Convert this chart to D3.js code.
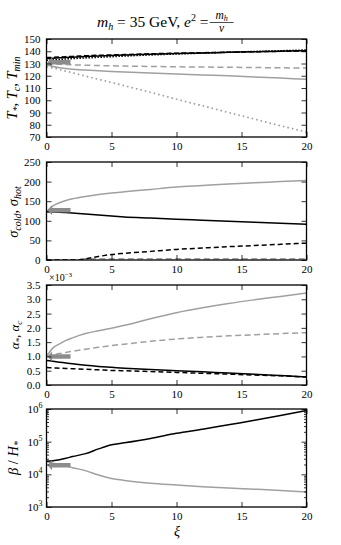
<!DOCTYPE html>
<html><head><meta charset="utf-8">
<script src="https://cdn.jsdelivr.net/npm/d3@7/dist/d3.min.js"></script>
<style>body{margin:0;background:#fff}svg{display:block}text{font-family:"Liberation Serif","DejaVu Serif",serif;}</style>
</head><body><svg id="c" width="341" height="545"></svg>
<script>
const xi = [0, 0.5, 1, 1.5, 2, 3, 4, 5, 6, 8, 10, 12, 14, 16, 18, 20];
const xTicks = [0, 5, 10, 15, 20];

// Panel 1: temperatures
const tStarBlack = [134, 134.3, 134.6, 134.9, 135.2, 135.7, 136.1, 136.5, 136.9, 137.5, 138.1, 138.6, 139.1, 139.6, 140.0, 140.5];
const tcBlack = [134.8, 135.0, 135.3, 135.6, 135.8, 136.3, 136.7, 137.0, 137.3, 137.9, 138.4, 138.8, 139.2, 139.6, 139.9, 140.2];
const tMinBlack = [132.6, 132.9, 133.3, 133.7, 134.0, 134.6, 135.1, 135.6, 136.1, 137.0, 137.8, 138.5, 139.2, 139.8, 140.4, 141.0];
const tcGray = [130, 129.7, 129.4, 129.1, 128.9, 128.6, 128.3, 128.1, 127.9, 127.6, 127.3, 127.1, 126.9, 126.7, 126.5, 126.3];
const tStarGray = [129, 127.6, 126.6, 125.9, 125.3, 124.6, 124.0, 123.5, 123.1, 122.3, 121.5, 120.7, 119.9, 119.0, 118.1, 117.2];
const tMinGray = [127.5, 126.3, 125.0, 123.7, 122.4, 119.7, 117.1, 114.5, 111.8, 106.5, 100.8, 95.5, 90.0, 84.6, 79.2, 74.0];
const yTicks1 = [70, 80, 90, 100, 110, 120, 130, 140, 150];

// Panel 2: sigma
const sigmaHotGray = [123, 138, 146, 152, 156, 162, 167, 171, 174, 180, 186, 190, 194, 197, 200, 203];
const sigmaColdBlack = [123, 122.5, 122, 121, 120, 117.5, 114.5, 112, 110, 107, 104, 101.5, 99, 96.5, 94, 91.5];
const xiDashed2 = [0, 2.6, 3, 4, 5, 6, 8, 10, 12, 14, 16, 18, 20];
const sigmaDashBlack = [0, 0, 3, 9, 14, 17, 22, 27, 30.5, 34, 37, 40, 43];
const xiDashGray2 = [2.6, 5, 10, 15, 20];
const sigmaDashGray = [3, 3, 3, 3, 3];
const yTicks2 = [0, 50, 100, 150, 200, 250];

// Panel 3: alpha (x1e-3)
const alphaGray = [1.0, 1.3, 1.44, 1.56, 1.65, 1.8, 1.9, 1.99, 2.09, 2.32, 2.53, 2.7, 2.85, 2.98, 3.1, 3.22];
const alphaGrayDash = [1.0, 1.05, 1.1, 1.14, 1.18, 1.25, 1.32, 1.38, 1.43, 1.53, 1.61, 1.67, 1.72, 1.76, 1.8, 1.83];
const alphaBlack = [0.86, 0.83, 0.8, 0.77, 0.74, 0.69, 0.65, 0.62, 0.59, 0.54, 0.5, 0.46, 0.42, 0.38, 0.33, 0.28];
const alphaBlackDash = [0.61, 0.6, 0.59, 0.58, 0.57, 0.55, 0.53, 0.51, 0.5, 0.47, 0.44, 0.41, 0.38, 0.35, 0.32, 0.28];
const yTicks3 = [0, 0.5, 1.0, 1.5, 2.0, 2.5, 3.0, 3.5];

// Panel 4: beta/H
const betaBlack = [2.5e4, 2.6e4, 2.8e4, 3.1e4, 3.5e4, 4.3e4, 6.0e4, 8.0e4, 9.2e4, 1.25e5, 1.8e5, 2.4e5, 3.3e5, 4.5e5, 6.3e5, 9.0e5];
const betaGray = [2.4e4, 2.2e4, 2.0e4, 1.8e4, 1.6e4, 1.3e4, 9.5e3, 7.5e3, 6.5e3, 5.3e3, 4.7e3, 4.2e3, 3.8e3, 3.5e3, 3.2e3, 2.9e3];
const yTicks4 = [1e3, 1e4, 1e5, 1e6];

// arrow markers (value at xi = 0)
const arrowVals = [131, 127, 1.0, 1.9e4];

const GRAY = "#a0a0a0", AGRAY = "#8c8c8c";
const svg = d3.select("#c");
const L = 46.5, R = 306.5;
const x = d3.scaleLinear().domain([0, 20]).range([L, R]);

const panels = [
  {top: 39, bot: 137, dom: [70, 150], ticks: yTicks1, fmt: d => d},
  {top: 162, bot: 260, dom: [0, 250], ticks: yTicks2, fmt: d => d},
  {top: 285, bot: 385, dom: [0, 3.5], ticks: yTicks3, fmt: d => d.toFixed(1)},
  {top: 409, bot: 507, dom: [1e3, 1e6], ticks: yTicks4, log: true},
];

function setup(p, i) {
  const y = p.log ? d3.scaleLog().domain(p.dom).range([p.bot, p.top]) : d3.scaleLinear().domain(p.dom).range([p.bot, p.top]);
  p.y = y;
  const clipId = "clip" + i;
  svg.append("clipPath").attr("id", clipId).append("rect").attr("x", L).attr("y", p.top).attr("width", R - L).attr("height", p.bot - p.top);
  p.plot = svg.append("g").attr("clip-path", `url(#${clipId})`);
  return p;
}
panels.forEach(setup);

function frame(p) {
  const g = svg.append("g");
  const y = p.y;
  g.append("g").attr("transform", `translate(0,${p.bot})`)
    .call(d3.axisBottom(x).tickValues(xTicks).tickSize(-5).tickPadding(5).tickFormat(d => d))
    .call(a => a.select(".domain").remove());
  g.append("g").attr("transform", `translate(0,${p.top})`)
    .call(d3.axisTop(x).tickValues(xTicks).tickSize(-5).tickFormat(""))
    .call(a => a.select(".domain").remove());
  let yl = d3.axisLeft(y).tickValues(p.ticks).tickSize(-5).tickPadding(6);
  let yr = d3.axisRight(y).tickValues(p.ticks).tickSize(-5).tickFormat("");
  if (p.log) yl.tickFormat(() => ""); else yl.tickFormat(p.fmt);
  g.append("g").attr("transform", `translate(${L},0)`).call(yl).call(a => a.select(".domain").remove());
  g.append("g").attr("transform", `translate(${R},0)`).call(yr).call(a => a.select(".domain").remove());
  if (p.log) {
    const minors = [];
    [1e3, 1e4, 1e5].forEach(b => { for (let k = 2; k <= 9; k++) minors.push(b * k); });
    g.append("g").attr("transform", `translate(${L},0)`).call(d3.axisLeft(y).tickValues(minors).tickSize(-2.5).tickFormat("")).call(a => a.select(".domain").remove());
    g.append("g").attr("transform", `translate(${R},0)`).call(d3.axisRight(y).tickValues(minors).tickSize(-2.5).tickFormat("")).call(a => a.select(".domain").remove());
    p.ticks.forEach(t => {
      const e = Math.round(Math.log10(t));
      const tx = g.append("text").attr("x", L - 4).attr("y", y(t) + 4).attr("text-anchor", "end").attr("font-size", 11);
      tx.append("tspan").text("10");
      tx.append("tspan").attr("dy", -5).attr("font-size", 8).text(e);
    });
  }
  g.selectAll(".tick text").attr("font-size", 11).attr("font-family", '"Liberation Serif",serif').attr("fill", "#000");
  g.selectAll(".tick line").attr("stroke", "#000").attr("stroke-width", 0.8);
  g.append("rect").attr("x", L).attr("y", p.top).attr("width", R - L).attr("height", p.bot - p.top)
    .attr("fill", "none").attr("stroke", "#000").attr("stroke-width", 1.3);
}

function line(p, xs, ys, color, dash, w) {
  const ln = d3.line().x((d, i) => x(xs[i])).y(d => p.y(d)).curve(d3.curveMonotoneX);
  p.plot.append("path").attr("d", ln(ys)).attr("fill", "none").attr("stroke", color)
    .attr("stroke-width", w || 1.5).attr("stroke-dasharray", dash || null);
}

function arrow(p, val) {
  const yv = p.y(val);
  const x0 = x(1.85), x1 = x(0.35), xh = x(0) + 1;
  p.plot.append("line").attr("x1", x0).attr("x2", x1).attr("y1", yv).attr("y2", yv)
    .attr("stroke", AGRAY).attr("stroke-width", 4.5);
  p.plot.append("path").attr("d", `M${xh},${yv} L${x1 + 1},${yv - 5} L${x1 + 1},${yv + 5} Z`).attr("fill", AGRAY);
}

const p1 = panels[0];
line(p1, xi, tMinGray, GRAY, "1.6,3", 1.7);
line(p1, xi, tStarGray, GRAY, null, 1.5);
line(p1, xi, tcGray, GRAY, "6,3.5", 1.5);
line(p1, xi, tStarBlack, "#000", null, 1.5);
line(p1, xi, tcBlack, "#000", "5,2.5", 1.5);
line(p1, xi, tMinBlack, "#000", "1.5,1.5", 1.6);
arrow(p1, arrowVals[0]);

const p2 = panels[1];
line(p2, xi, sigmaHotGray, GRAY, null, 1.5);
line(p2, xiDashGray2, sigmaDashGray, GRAY, "6,3.5", 1.5);
line(p2, xi, sigmaColdBlack, "#000", null, 1.5);
line(p2, xiDashed2, sigmaDashBlack, "#000", "5,3", 1.5);
arrow(p2, arrowVals[1]);

const p3 = panels[2];
line(p3, xi, alphaGray, GRAY, null, 1.5);
line(p3, xi, alphaGrayDash, GRAY, "6,3.5", 1.5);
line(p3, xi, alphaBlack, "#000", null, 1.5);
line(p3, xi, alphaBlackDash, "#000", "5,3", 1.5);
arrow(p3, arrowVals[2]);

const p4 = panels[3];
line(p4, xi, betaGray, GRAY, null, 1.5);
line(p4, xi, betaBlack, "#000", null, 1.5);
arrow(p4, arrowVals[3]);

panels.forEach(frame);

function ylab(cx, cy, fs, build) {
  const t = svg.append("text").attr("transform", `translate(${cx},${cy}) rotate(-90)`)
    .attr("text-anchor", "middle").attr("font-size", fs).attr("font-style", "italic");
  build(t);
}
ylab(17, 88, 14.5, t => {
  t.append("tspan").text("T");
  t.append("tspan").attr("dy", 3).attr("font-size", 10).text("*");
  t.append("tspan").attr("dy", -3).attr("font-style", "normal").text(", ");
  t.append("tspan").text("T");
  t.append("tspan").attr("dy", 3).attr("font-size", 10).text("c");
  t.append("tspan").attr("dy", -3).attr("font-style", "normal").text(", ");
  t.append("tspan").text("T");
  t.append("tspan").attr("dy", 3).attr("font-size", 10).text("min");
});
ylab(18, 212, 14.5, t => {
  t.append("tspan").text("σ");
  t.append("tspan").attr("dy", 3).attr("font-size", 10).text("cold");
  t.append("tspan").attr("dy", -3).attr("font-style", "normal").text(", ");
  t.append("tspan").text("σ");
  t.append("tspan").attr("dy", 3).attr("font-size", 10).text("hot");
});
ylab(19, 335, 13, t => {
  t.append("tspan").text("α");
  t.append("tspan").attr("dy", 3).attr("font-size", 9).text("*");
  t.append("tspan").attr("dy", -3).attr("font-style", "normal").text(", ");
  t.append("tspan").text("α");
  t.append("tspan").attr("dy", 3).attr("font-size", 9).text("c");
});
ylab(18, 458, 14.5, t => {
  t.append("tspan").text("β");
  t.append("tspan").attr("font-style", "normal").text(" / ");
  t.append("tspan").text("H");
  t.append("tspan").attr("dy", 3).attr("font-size", 10).text("*");
});

svg.append("text").attr("x", 177).attr("y", 536).attr("text-anchor", "middle").attr("font-size", 14).attr("font-style", "italic").text("ξ");

const m3 = svg.append("text").attr("x", 49).attr("y", 281).attr("font-size", 10);
m3.append("tspan").text("×10");
m3.append("tspan").attr("dy", -4).attr("font-size", 7).text("−3");

const title = svg.append("text").attr("x", 97).attr("y", 27).attr("font-size", 15.5);
title.append("tspan").attr("font-style", "italic").text("m");
title.append("tspan").attr("font-style", "italic").attr("font-size", 10).attr("dy", 3).text("h");
title.append("tspan").attr("dy", -3).text(" = 35 GeV, ");
title.append("tspan").attr("font-style", "italic").text("e");
title.append("tspan").attr("font-size", 10).attr("dy", -6).text("2");
title.append("tspan").attr("dy", 6).text(" = ");
const tw = title.node().getComputedTextLength();
const fx = 97 + tw + 1;
const num = svg.append("text").attr("x", fx + 12).attr("y", 19).attr("text-anchor", "middle").attr("font-size", 11.5).attr("font-style", "italic");
num.append("tspan").text("m");
num.append("tspan").attr("font-size", 8).attr("dy", 2).text("h");
svg.append("line").attr("x1", fx).attr("x2", fx + 24).attr("y1", 22.5).attr("y2", 22.5).attr("stroke", "#000").attr("stroke-width", 0.7);
svg.append("text").attr("x", fx + 12).attr("y", 31.5).attr("text-anchor", "middle").attr("font-size", 11.5).attr("font-style", "italic").text("v");
</script></body></html>
